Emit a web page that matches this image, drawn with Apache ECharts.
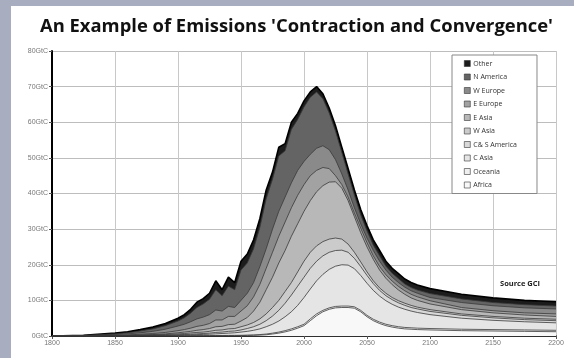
<!DOCTYPE html>
<html><head><meta charset="utf-8">
<script src="https://cdn.jsdelivr.net/npm/echarts@6/dist/echarts.min.js"></script>
<style>html,body{margin:0;padding:0;background:#a9adc0;}#c{width:574px;height:358px;}</style>
</head><body><div id="c"></div>
<script>
// Years sampled along the x axis
const years = [1800,1825,1850,1860,1870,1880,1890,1900,1905,1910,1915,1920,1925,1930,1935,1940,1945,1950,1955,1960,1965,1970,1975,1980,1985,1990,1995,2000,2005,2010,2015,2020,2025,2030,2035,2040,2045,2050,2055,2060,2065,2070,2075,2080,2085,2090,2100,2125,2150,2175,2200];
// Upper edge of each band (GtC), bottom band first
const africa   = [0,0,0.005,0.01,0.015,0.02,0.03,0.04,0.045,0.05,0.06,0.065,0.07,0.08,0.09,0.1,0.11,0.12,0.15,0.18,0.25,0.35,0.55,0.8,1.15,1.6,2.2,2.9,4.3,5.7,6.8,7.5,7.9,8.0,8.0,7.8,6.8,5.4,4.3,3.5,2.9,2.5,2.2,2.0,1.9,1.8,1.7,1.5,1.4,1.3,1.2];
const oceania  = [0,0,0.01,0.02,0.03,0.04,0.05,0.07,0.08,0.09,0.1,0.11,0.12,0.14,0.15,0.17,0.18,0.2,0.25,0.3,0.4,0.55,0.8,1.1,1.5,2.0,2.6,3.3,4.8,6.2,7.2,7.9,8.3,8.4,8.4,8.2,7.2,5.8,4.7,3.9,3.3,2.9,2.6,2.4,2.3,2.2,2.1,1.9,1.8,1.7,1.6];
const cAsia    = [0,0.01,0.03,0.05,0.08,0.12,0.16,0.22,0.27,0.32,0.38,0.44,0.5,0.6,0.7,0.8,0.9,1.1,1.3,1.6,2.0,2.6,3.3,4.2,5.4,6.8,8.6,10.8,13.2,15.5,17.3,18.7,19.6,20.0,19.9,18.9,17.0,14.8,12.8,11.2,9.9,8.9,8.1,7.5,7.0,6.6,6.0,5.0,4.4,4.0,3.7];
const csAmerica= [0,0.01,0.05,0.08,0.12,0.18,0.25,0.35,0.42,0.5,0.6,0.7,0.8,1.0,1.1,1.3,1.4,1.7,2.1,2.6,3.3,4.3,5.6,7.2,9.2,11.5,14,16.5,19,21,22.5,23.5,24,24.1,23.5,21.8,19.5,17,14.7,12.8,11.3,10.2,9.3,8.6,8.0,7.6,6.9,5.8,5.1,4.6,4.3];
const wAsia    = [0,0.02,0.08,0.12,0.2,0.3,0.4,0.6,0.7,0.85,1.0,1.1,1.3,1.6,1.7,2.0,2.1,2.6,3.1,3.8,4.8,6.2,8,10,12.5,15,18,21,23.5,25.3,26.5,27.2,27.5,27.2,25.8,23.5,20.8,18,15.5,13.5,12,10.8,9.9,9.2,8.6,8.1,7.4,6.2,5.5,5.0,4.7];
const eAsia    = [0,0.03,0.1,0.2,0.3,0.4,0.6,0.9,1.1,1.3,1.6,1.8,2.1,2.6,2.7,3.2,3.3,4.2,5.2,7,9.5,13,16.5,20.5,24,28,31.5,35,38,40.5,42.2,43.2,43.3,41.5,38,33.5,29,25,21.5,18.5,16.2,14.4,12.9,11.7,10.7,10.0,9.0,7.4,6.5,5.9,5.5];
const eEurope  = [0,0.05,0.2,0.3,0.5,0.7,1.0,1.5,1.8,2.2,2.7,3.0,3.5,4.5,4.5,5.5,5.5,7,8.5,11,14.5,19,23.5,28,32,36,39.5,42.5,45,46.5,47.3,47,45,42.5,39,34.5,30.3,26.2,22.5,19.5,17.2,15.4,13.9,12.7,11.7,11.0,9.9,8.0,7.1,6.5,6.2];
const wEurope  = [0,0.1,0.4,0.6,0.9,1.3,1.9,2.8,3.3,4.0,4.8,5.3,6.0,7.3,7.0,8.3,8.0,10,12,15,19.5,24.5,30,35,39,43,46.5,49,51,52.7,53.4,52.3,49.5,45.5,41,36,31.5,27.5,24,21,18.5,16.5,15,13.7,12.7,12.0,10.8,9.4,8.5,7.9,7.6];
const nAmerica = [0,0.15,0.6,0.9,1.4,2.0,2.9,4.2,5.1,6.4,8.0,9.0,10.3,13,11.3,14,13,18.5,20.5,24.5,30.5,38.5,44,50.5,52,58,60.8,64.3,67,68.5,66.6,62.6,57.5,51.5,45.5,39.5,34,29.5,25.5,22.5,19.6,17.6,16.1,14.6,13.6,12.9,11.9,10.4,9.4,8.8,8.4];
const other    = [0,0.2,0.8,1.2,1.8,2.5,3.5,5.0,6.0,7.5,9.5,10.5,12,15.5,13,16.5,15,21,23,27,33,41,46,53,54,60,62.5,66,68.5,70,68,64,59,53,47,41,35.5,31,27,24,21,19,17.5,16,15,14.3,13.3,11.7,10.7,10.0,9.6];

const yTicks = [0,10,20,30,40,50,60,70,80];
const names = ['Other','N America','W Europe','E Europe','E Asia','W Asia','C& S America','C Asia','Oceania','Africa'];
const bands = [other,nAmerica,wEurope,eEurope,eAsia,wAsia,csAmerica,cAsia,oceania,africa];
const fills = ['#1c1c1c','#646464','#8a8a8a','#a2a2a2','#b8b8b8','#cbcbcb','#d8d8d8','#e5e5e5','#efefef','#f8f8f8'];

const series = names.map((n,i)=>({
  name:n, type:'line', symbol:'none', smooth:false,
  data: years.map((y,k)=>[y,bands[i][k]]),
  lineStyle:{color: i===0?'#000':'#3a3a3a', width: i===0?1.6:0.8},
  itemStyle:{color: fills[i], borderColor:'#333', borderWidth:0.6},
  areaStyle:{color: fills[i], opacity:1}
}));

const chart = echarts.init(document.getElementById('c'));
chart.setOption({
  animation:false,
  backgroundColor:'#a9adc0',
  graphic:[
    {type:'rect', left:11, top:6, shape:{width:563, height:352}, style:{fill:'#ffffff'}, z:-10, silent:true},
    {type:'text', left:500, top:280, style:{text:'Source GCI', font:'bold 7.5px "Open Sans"', fill:'#222'}, z:100}
  ],
  title:{text:"An Example of Emissions 'Contraction and Convergence'", left:35, top:13,
    textStyle:{fontFamily:'Open Sans', fontWeight:'bold', fontSize:18.4, color:'#111'}},
  legend:{orient:'vertical', left:452, top:55, data:names, itemWidth:6, itemHeight:6, itemGap:6.5,
    padding:[5,20,5,12], backgroundColor:'#fff', borderColor:'#888', borderWidth:1,
    icon:'rect', itemStyle:{borderWidth:0.6, borderColor:'#333'},
    textStyle:{fontSize:7, color:'#333', fontFamily:'Open Sans', padding:[0,0,0,-2]}, z:50},
  grid:{left:52, right:18, top:51, bottom:22},
  xAxis:{type:'value', min:1800, max:2200, interval:50,
    axisLine:{lineStyle:{color:'#000', width:1.5}}, axisTick:{show:true, length:3, lineStyle:{color:'#555'}},
    axisLabel:{fontSize:7, color:'#777', margin:4, formatter:v=>String(v)},
    splitLine:{show:true, lineStyle:{color:'#c8c8c8', width:1}}},
  yAxis:{type:'value', min:0, max:80, interval:10,
    axisLine:{show:true, lineStyle:{color:'#000', width:2}}, axisTick:{show:true, length:3, lineStyle:{color:'#555'}},
    axisLabel:{fontSize:7, color:'#777', margin:4, formatter:v=>yTicks.includes(v)?v+'GtC':''},
    splitLine:{show:true, lineStyle:{color:'#bdbdbd', width:1}}},
  series: series
});
</script></body></html>
